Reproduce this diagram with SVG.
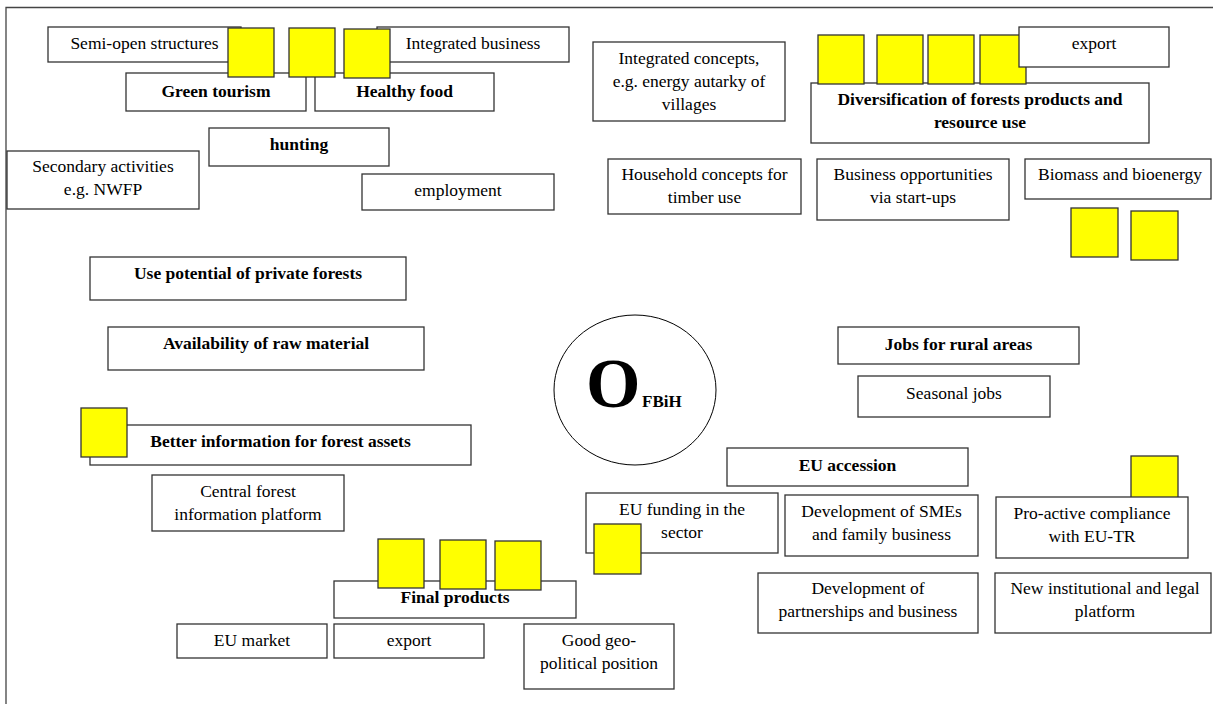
<svg xmlns="http://www.w3.org/2000/svg" width="1213" height="704" viewBox="0 0 1213 704">
<style>
.bx{fill:#fff;stroke:#333;stroke-width:1.3}
.y{fill:#ffff00;stroke:#333;stroke-width:1.3}
text{font-family:"Liberation Serif","Times New Roman",serif;font-size:17.5px;fill:#000;text-anchor:middle}
.b{font-weight:bold}
</style>
<rect x="0" y="0" width="1213" height="704" fill="#fff"/>
<path d="M6 704V7.5H1213" fill="none" stroke="#444" stroke-width="1.3"/>
<g id="connectors"/>
<g id="semi-open"><rect class="bx" x="48" y="27" width="193" height="35"/><text x="144.5" y="49">Semi-open structures</text></g>
<g id="integrated-business"><rect class="bx" x="377" y="27" width="192" height="35"/><text x="473" y="49">Integrated business</text></g>
<g id="green-tourism"><rect class="bx" x="126" y="73" width="180" height="38"/><text class="b" x="216" y="96.5">Green tourism</text></g>
<g id="healthy-food"><rect class="bx" x="315" y="73" width="179" height="38"/><text class="b" x="404.5" y="96.5">Healthy food</text></g>
<g id="hunting"><rect class="bx" x="209" y="128" width="180" height="38"/><text class="b" x="299" y="150">hunting</text></g>
<g id="secondary"><rect class="bx" x="7" y="151" width="192" height="58"/><text x="103" y="172">Secondary activities</text><text x="103" y="195">e.g. NWFP</text></g>
<g id="employment"><rect class="bx" x="362" y="174" width="192" height="36"/><text x="458" y="195.5">employment</text></g>
<g id="integrated-concepts"><rect class="bx" x="593" y="42" width="192" height="79"/><text x="689" y="64">Integrated concepts,</text><text x="689" y="87">e.g. energy autarky of</text><text x="689" y="110">villages</text></g>
<g id="diversification"><rect class="bx" x="811" y="83" width="338" height="60"/><text class="b" x="980" y="105">Diversification of forests products and</text><text class="b" x="980" y="128">resource use</text></g>
<g id="household"><rect class="bx" x="608" y="159" width="193" height="55"/><text x="704.5" y="180">Household concepts for</text><text x="704.5" y="203">timber use</text></g>
<g id="business-opportunities"><rect class="bx" x="817" y="159" width="192" height="61"/><text x="913" y="180">Business opportunities</text><text x="913" y="203">via start-ups</text></g>
<g id="biomass"><rect class="bx" x="1025" y="159" width="186" height="40"/><text x="1120" y="180">Biomass and bioenergy</text></g>
<g id="use-potential"><rect class="bx" x="90" y="257" width="316" height="43"/><text class="b" x="248" y="279">Use potential of private forests</text></g>
<g id="availability"><rect class="bx" x="108" y="327" width="316" height="43"/><text class="b" x="266" y="349">Availability of raw material</text></g>
<g id="better-information"><rect class="bx" x="90" y="425" width="381" height="40"/><text class="b" x="280.5" y="447">Better information for forest assets</text></g>
<g id="central-forest"><rect class="bx" x="152" y="475" width="192" height="56"/><text x="248" y="497">Central forest</text><text x="248" y="520">information platform</text></g>
<g id="ofbih"><ellipse cx="635" cy="390" rx="81" ry="75" fill="#fff" stroke="#000" stroke-width="1"/><text class="b" x="586" y="407" style="font-size:70px;text-anchor:start">O</text><text class="b" x="642" y="407" style="font-size:17px;text-anchor:start">FBiH</text></g>
<g id="jobs-rural"><rect class="bx" x="838" y="327" width="241" height="37"/><text class="b" x="958.5" y="349.5">Jobs for rural areas</text></g>
<g id="seasonal-jobs"><rect class="bx" x="858" y="376" width="192" height="41"/><text x="954" y="398.5">Seasonal jobs</text></g>
<g id="eu-accession"><rect class="bx" x="727" y="448" width="241" height="38"/><text class="b" x="847.5" y="470.5">EU accession</text></g>
<g id="eu-funding"><rect class="bx" x="586" y="493" width="192" height="60"/><text x="682" y="515">EU funding in the</text><text x="682" y="538">sector</text></g>
<g id="smes"><rect class="bx" x="785" y="495" width="193" height="61"/><text x="881.5" y="517">Development of SMEs</text><text x="881.5" y="540">and family business</text></g>
<g id="partnerships"><rect class="bx" x="758" y="573" width="220" height="60"/><text x="868" y="594">Development of</text><text x="868" y="617">partnerships and business</text></g>
<g id="new-institutional"><rect class="bx" x="995" y="573" width="216" height="60"/><text x="1105" y="594">New institutional and legal</text><text x="1105" y="617">platform</text></g>
<g id="final-products"><rect class="bx" x="334" y="581" width="242" height="37"/><text class="b" x="455" y="602.5">Final products</text></g>
<g id="eu-market"><rect class="bx" x="177" y="624" width="150" height="34"/><text x="252" y="645.5">EU market</text></g>
<g id="export-bottom"><rect class="bx" x="334" y="624" width="150" height="34"/><text x="409" y="645.5">export</text></g>
<g id="geo-political"><rect class="bx" x="524" y="624" width="150" height="65"/><text x="599" y="645.5">Good geo-</text><text x="599" y="668.5">political position</text></g>
<g id="yellow-notes">
<rect class="y" x="228" y="28" width="46" height="49"/>
<rect class="y" x="289" y="28" width="46" height="49"/>
<rect class="y" x="344" y="29" width="46" height="49"/>
<rect class="y" x="818" y="35" width="46" height="49"/>
<rect class="y" x="877" y="35" width="46" height="49"/>
<rect class="y" x="928" y="35" width="46" height="49"/>
<rect class="y" x="980" y="35" width="46" height="49"/>
<rect class="y" x="1071" y="208" width="47" height="49"/>
<rect class="y" x="1131" y="211" width="47" height="49"/>
<rect class="y" x="81" y="408" width="46" height="49"/>
<rect class="y" x="594" y="524" width="47" height="50"/>
<rect class="y" x="1131" y="456" width="47" height="49"/>
<rect class="y" x="378" y="539" width="46" height="49"/>
<rect class="y" x="440" y="540" width="46" height="49"/>
<rect class="y" x="495" y="541" width="46" height="49"/>
</g>
<g id="export-top"><rect class="bx" x="1019" y="27" width="150" height="40"/><text x="1094" y="49">export</text></g>
<g id="pro-active"><rect class="bx" x="996" y="497" width="192" height="61"/><text x="1092" y="519">Pro-active compliance</text><text x="1092" y="542">with EU-TR</text></g>
</svg>
